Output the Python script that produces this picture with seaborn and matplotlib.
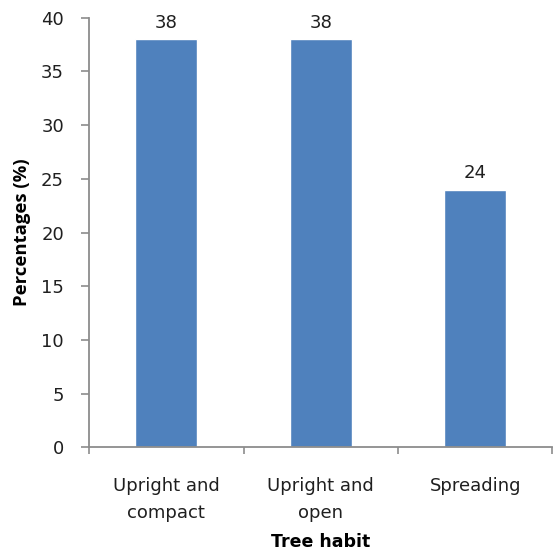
import matplotlib
matplotlib.use("Agg")
import matplotlib.pyplot as plt
import seaborn as sns
import pandas as pd
from matplotlib.ticker import FixedLocator

habits = ["Upright and\ncompact", "Upright and\nopen", "Spreading"]
percentages = [38, 38, 24]
y_ticks = [0, 5, 10, 15, 20, 25, 30, 35, 40]

sns.set_theme(style="white")
plt.rcParams["font.family"] = ["DejaVu Sans"]

TEXT = "#1f1f1f"
AXIS = "#8c8c8c"
FS = 13

df = pd.DataFrame({"habit": habits, "pct": percentages})

fig = plt.figure(figsize=(5.53, 5.51), dpi=100)
ax = fig.add_axes([0.161, 0.188, 0.838, 0.780])

sns.barplot(data=df, x="habit", y="pct", color="#4F81BD", saturation=1,
            width=0.4, ax=ax)

for i, v in enumerate(percentages):
    ax.text(i, v + 0.7, f"{v}", ha="center", va="bottom", fontsize=FS,
            color=TEXT)

ax.set_xlim(-0.5, 2.5)
ax.set_ylim(0, 40)
ax.set_yticks(y_ticks)
ax.set_yticklabels([str(t) for t in y_ticks])
ax.tick_params(axis="y", length=6, width=1.2, color=AXIS, labelsize=FS,
               labelcolor=TEXT, pad=12, direction="out", left=True)

ax.set_xticks(range(len(habits)))
ax.set_xticklabels(habits, linespacing=1.65)
ax.tick_params(axis="x", which="major", length=0, labelsize=FS,
               labelcolor=TEXT, pad=21)
ax.xaxis.set_minor_locator(FixedLocator([-0.5, 0.5, 1.5, 2.5]))
ax.tick_params(axis="x", which="minor", length=5, width=1.2, color=AXIS,
               direction="out", bottom=True)

for side in ["top", "right"]:
    ax.spines[side].set_visible(False)
for side in ["left", "bottom"]:
    ax.spines[side].set_color(AXIS)
    ax.spines[side].set_linewidth(1.3)

ax.set_xlabel("Tree habit", fontsize=12.5, fontweight="bold", labelpad=8,
              color="black")
ax.set_ylabel("Percentages (%)", fontsize=13.3, fontweight="bold",
              labelpad=7, color="black", family=["Open Sans", "DejaVu Sans"])

fig.savefig("out.png", dpi=100)
